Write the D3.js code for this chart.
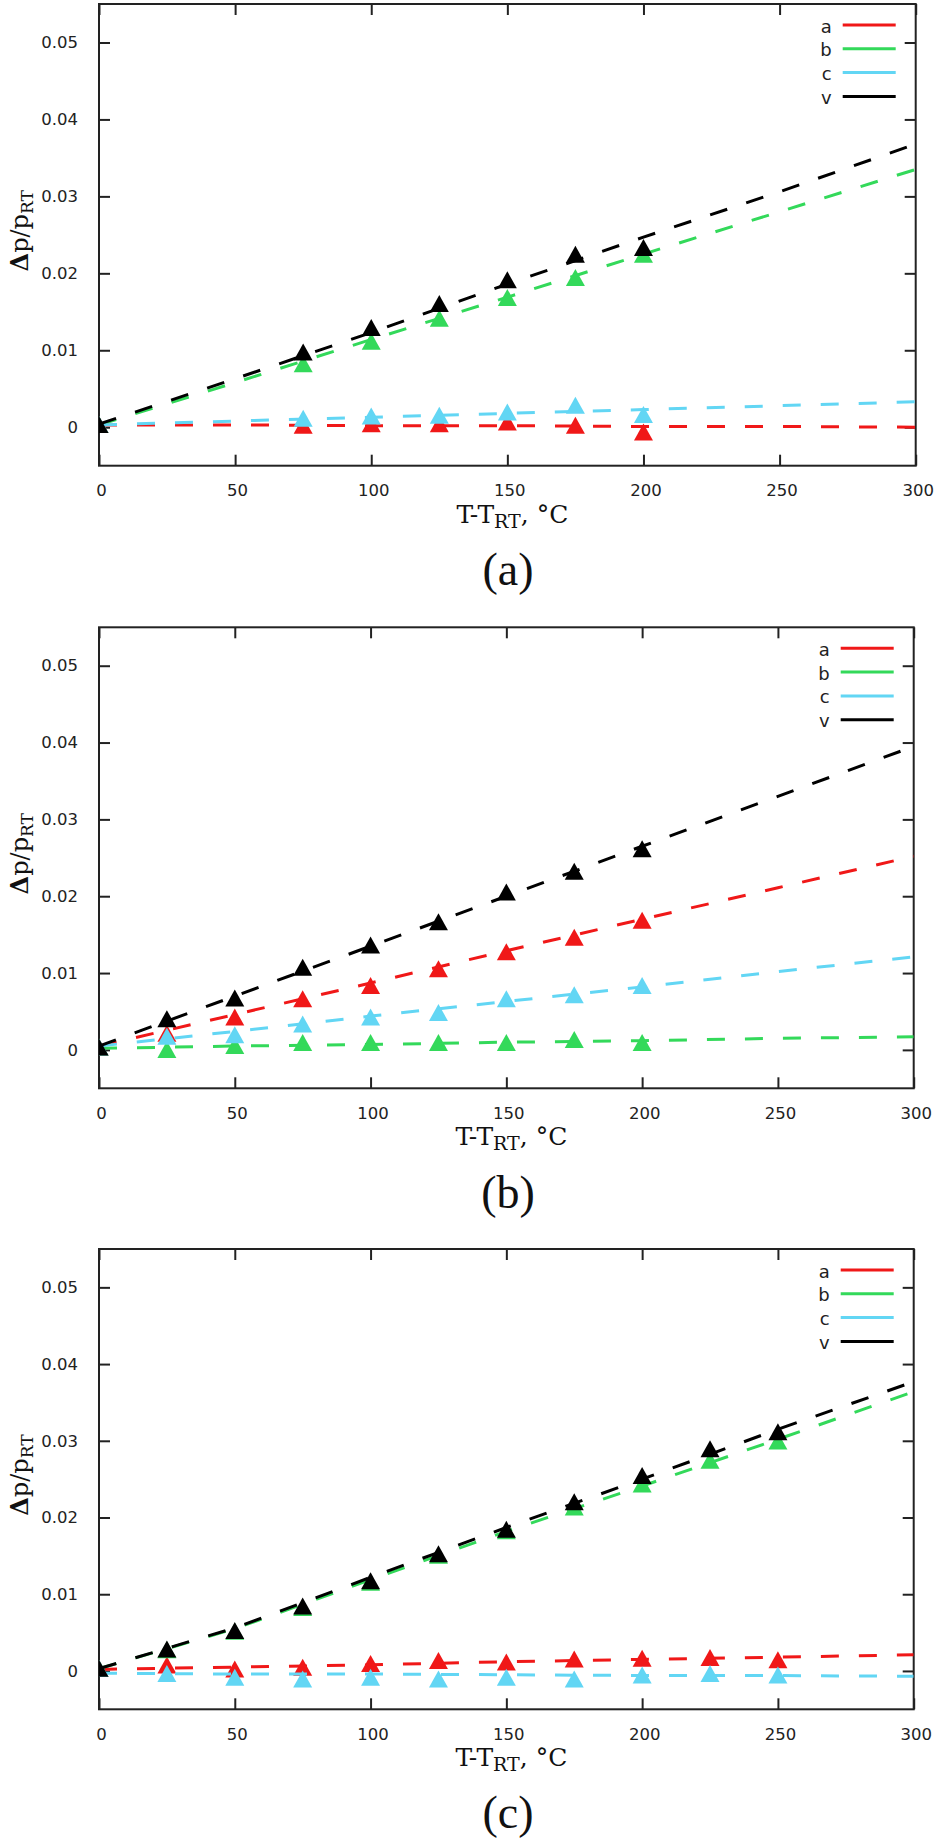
<!DOCTYPE html>
<html>
<head>
<meta charset="utf-8">
<script src="https://cdn.jsdelivr.net/npm/d3@7"></script>
<style>
  html, body { margin: 0; padding: 0; background: #fff; }
  svg { display: block; }
</style>
</head>
<body>
<svg id="chart" width="936" height="1844"></svg>
<script>
// ---------------- data ----------------
const seriesNames = ["a", "b", "c", "v"];
const seriesColors = ["#f01818", "#33d95a", "#62d6f4", "#000000"];
const xTicks = [0, 50, 100, 150, 200, 250, 300];
const yTicks = [0, 0.01, 0.02, 0.03, 0.04, 0.05];
const panelLabels = ["(a)", "(b)", "(c)"];

// panel (a) measured points
const xA = [0, 75, 100, 125, 150, 175, 200];
const aA = [0, -0.0001, 0.0001, 0.0001, 0.0003, -0.0001, -0.0010];
const bA = [0, 0.0079, 0.0108, 0.0138, 0.0165, 0.0191, 0.0221];
const cA = [0, 0.0008, 0.0011, 0.0012, 0.0016, 0.0025, 0.0013];
const vA = [0, 0.0094, 0.0126, 0.0157, 0.0188, 0.0221, 0.0230];

// panel (b) measured points
const xB = [0, 25, 50, 75, 100, 125, 150, 175, 200];
const aB = [0, 0.0018, 0.0039, 0.0063, 0.0080, 0.0102, 0.0124, 0.0143, 0.0165];
const bB = [0, -0.0003, 0.0002, 0.0006, 0.0006, 0.0006, 0.0006, 0.0010, 0.0006];
const cB = [0, 0.0014, 0.0016, 0.0030, 0.0039, 0.0045, 0.0063, 0.0068, 0.0080];
const vB = [0, 0.0037, 0.0064, 0.0104, 0.0133, 0.0163, 0.0202, 0.0229, 0.0258];

// panel (c) measured points
const xC = [0, 25, 50, 75, 100, 125, 150, 175, 200, 225, 250];
const aC = [0, 0.0004, -0.0001, 0.0001, 0.0006, 0.0010, 0.0008, 0.0012, 0.0013, 0.0014, 0.0011];
const bC = [0, 0.0024, 0.0048, 0.0079, 0.0112, 0.0147, 0.0179, 0.0210, 0.0240, 0.0271, 0.0296];
const cC = [0, -0.0007, -0.0012, -0.0014, -0.0012, -0.0014, -0.0012, -0.0014, -0.0009, -0.0007, -0.0009];
const vC = [0, 0.0025, 0.0049, 0.0081, 0.0114, 0.0149, 0.0181, 0.0217, 0.0251, 0.0286, 0.0308];

const fitX = [0, 50, 100, 150, 200, 250, 300];
const fitAa = [0.0003, 0.0003, 0.0002, 0.0002, 0.0001, 0.0001, 0.0000];
const fitAb = [0.0003, 0.0058, 0.0114, 0.0169, 0.0225, 0.0280, 0.0335];
const fitAc = [0.0003, 0.0008, 0.0013, 0.0018, 0.0023, 0.0028, 0.0033];
const fitAv = [0.0004, 0.0063, 0.0123, 0.0186, 0.0247, 0.0306, 0.0368];

const fitBa = [0.0005, 0.0046, 0.0087, 0.0129, 0.0170, 0.0211, 0.0252];
const fitBb = [0.0002, 0.0005, 0.0007, 0.0010, 0.0012, 0.0015, 0.0017];
const fitBc = [0.0005, 0.0024, 0.0044, 0.0063, 0.0082, 0.0102, 0.0121];
const fitBv = [0.0005, 0.0070, 0.0135, 0.0200, 0.0265, 0.0330, 0.0395];

const fitCa = [0.0002, 0.0005, 0.0008, 0.0012, 0.0015, 0.0018, 0.0021];
const fitCb = [0.0003, 0.0055, 0.0119, 0.0182, 0.0241, 0.0302, 0.0364];
const fitCc = [-0.0003, -0.0004, -0.0004, -0.0005, -0.0006, -0.0006, -0.0007];
const fitCv = [0.0003, 0.0056, 0.0122, 0.0187, 0.0250, 0.0315, 0.0377];

// ---------------- layout ----------------
const panels = [
  { x: xA, pts: [aA, bA, cA, vA], fits: [fitAa, fitAb, fitAc, fitAv],
    left: 99, right: 915.7, top: 4, bottom: 465.7, captionY: 585 },
  { x: xB, pts: [aB, bB, cB, vB], fits: [fitBa, fitBb, fitBc, fitBv],
    left: 99, right: 913.7, top: 627.3, bottom: 1088.3, captionY: 1208 },
  { x: xC, pts: [aC, bC, cC, vC], fits: [fitCa, fitCb, fitCc, fitCv],
    left: 99, right: 913.7, top: 1249, bottom: 1709.3, captionY: 1828 }
];

const svg = d3.select("#chart");
svg.append("rect").attr("width", 936).attr("height", 1844).attr("fill", "#fff");

const tickFont = "'DejaVu Sans', sans-serif";
const serifFont = "'DejaVu Serif', serif";
const axisColor = "#222";

panels.forEach((p, pi) => {
  const x = d3.scaleLinear().domain([0, 300]).range([p.left, p.right]);
  const y = d3.scaleLinear().domain([-0.005, 0.055]).range([p.bottom, p.top]);
  const g = svg.append("g");

  // axes (ticks point inward, mirrored)
  const fmtY = d => d === 0 ? "0" : d3.format(".2f")(d);
  const axB = g.append("g").attr("transform", `translate(0,${p.bottom})`)
    .call(d3.axisBottom(x).tickValues(xTicks).tickSizeInner(-11).tickSizeOuter(0).tickPadding(19).tickFormat(d3.format("d")));
  const axT = g.append("g").attr("transform", `translate(0,${p.top})`)
    .call(d3.axisTop(x).tickValues(xTicks).tickSizeInner(-11).tickSizeOuter(0).tickFormat(""));
  const axL = g.append("g").attr("transform", `translate(${p.left},0)`)
    .call(d3.axisLeft(y).tickValues(yTicks).tickSizeInner(-11).tickSizeOuter(0).tickPadding(21).tickFormat(fmtY));
  const axR = g.append("g").attr("transform", `translate(${p.right},0)`)
    .call(d3.axisRight(y).tickValues(yTicks).tickSizeInner(-11).tickSizeOuter(0).tickFormat(""));
  [axB, axT, axL, axR].forEach(a => {
    a.select(".domain").remove();
    a.selectAll(".tick line").attr("stroke", axisColor).attr("stroke-width", 2);
    a.selectAll("text").attr("font-family", tickFont).attr("font-size", 16.5).attr("fill", "#222");
  });
  axB.selectAll("text").attr("dx", 2);

  // frame
  g.append("rect").attr("x", p.left).attr("y", p.top)
    .attr("width", p.right - p.left).attr("height", p.bottom - p.top)
    .attr("fill", "none").attr("stroke", axisColor).attr("stroke-width", 2);

  // clip for data
  const clipId = "clip" + pi;
  svg.append("clipPath").attr("id", clipId).append("rect")
    .attr("x", p.left).attr("y", p.top).attr("width", p.right - p.left).attr("height", p.bottom - p.top);
  const dg = g.append("g").attr("clip-path", `url(#${clipId})`);

  const line = d3.line().x(d => x(d[0])).y(d => y(d[1]));
  const tri = (cx, cy) => `M${cx},${cy - 11.3}L${cx - 9.5},${cy + 5.7}L${cx + 9.5},${cy + 5.7}Z`;

  seriesNames.forEach((name, si) => {
    const col = seriesColors[si];
    const pts = p.x.map((xv, i) => [xv, p.pts[si][i]]);
    dg.append("g").selectAll("path").data(pts).join("path")
      .attr("d", d => tri(x(d[0]), y(d[1])))
      .attr("fill", col);
    const fit = fitX.map((xv, i) => [xv, p.fits[si][i]]);
    dg.append("path").datum(fit).attr("d", line)
      .attr("fill", "none").attr("stroke", col).attr("stroke-width", 3)
      .attr("stroke-dasharray", "18,20");
  });

  // legend
  const lg = g.append("g");
  seriesNames.forEach((name, si) => {
    const ry = p.top + 21 + si * 23.8;
    lg.append("text").attr("x", p.right - 84).attr("y", ry + 7.5)
      .attr("text-anchor", "end").attr("font-family", tickFont).attr("font-size", 18)
      .attr("fill", "#222").text(name);
    lg.append("line").attr("x1", p.right - 73).attr("x2", p.right - 20)
      .attr("y1", ry).attr("y2", ry).attr("stroke", seriesColors[si]).attr("stroke-width", 3);
  });

  // x axis label
  const xl = g.append("text").attr("x", (p.left + p.right) / 2 + 5).attr("y", p.bottom + 57)
    .attr("text-anchor", "middle").attr("font-family", serifFont).attr("font-size", 25).attr("fill", "#111");
  xl.append("tspan").text("T-T");
  xl.append("tspan").attr("font-size", 19).attr("dy", 5).text("RT");
  xl.append("tspan").attr("dy", -5).text(", °C");

  // y axis label
  const cy = (p.top + p.bottom) / 2 - 4;
  const yl = g.append("text").attr("transform", `translate(28,${cy}) rotate(-90)`)
    .attr("text-anchor", "middle").attr("font-family", serifFont).attr("font-size", 24).attr("fill", "#111");
  yl.append("tspan").attr("font-weight", "bold").text("Δ");
  yl.append("tspan").text("p/p");
  yl.append("tspan").attr("font-size", 17).attr("dy", 5).text("RT");

  // caption
  svg.append("text").attr("x", 508).attr("y", p.captionY)
    .attr("text-anchor", "middle").attr("font-family", "'Liberation Serif', serif")
    .attr("font-size", 46).attr("fill", "#111").text(panelLabels[pi]);
});
</script>
</body>
</html>
